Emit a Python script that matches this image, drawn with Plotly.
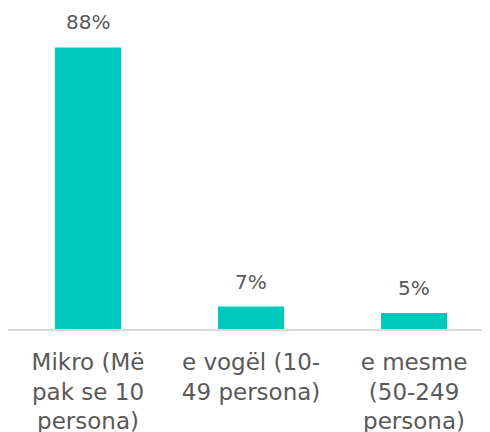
import plotly.graph_objects as go

categories = ["Mikro (Më<br>pak se 10<br>persona)", "e vogël (10-<br>49 persona)", "e mesme<br>(50-249<br>persona)"]
values = [88, 7, 5]
labels = ["88%", "7%", "5%"]

font_family = "DejaVu Sans"
text_color = "#595959"

fig = go.Figure()
fig.add_trace(go.Bar(
    x=[0, 1, 2],
    y=values,
    width=0.405,
    marker=dict(color="#00C8BC", line=dict(width=0)),
    hoverinfo="skip",
))

for i, (v, t) in enumerate(zip(values, labels)):
    fig.add_annotation(
        x=i, y=v, text=t, showarrow=False,
        yanchor="middle", xanchor="center", yshift=25,
        font=dict(family=font_family, size=20, color=text_color),
    )

fig.update_layout(
    width=482, height=424,
    margin=dict(l=0, r=0, t=1, b=103),
    paper_bgcolor="white", plot_bgcolor="white",
    showlegend=False,
    font=dict(family=font_family, size=23, color=text_color),
    xaxis=dict(
        range=[-0.491, 2.466],
        tickmode="array", tickvals=[0, 1, 2], ticktext=categories,
        showline=True, linecolor="#D9D9D9", linewidth=2,
        showgrid=False, zeroline=False, ticks="",
        ticklabelstandoff=11,
        automargin=False,
        tickfont=dict(family=font_family, size=23, color=text_color),
    ),
    yaxis=dict(range=[0, 100], visible=False, automargin=False),
)

fig.write_html("out.html")
